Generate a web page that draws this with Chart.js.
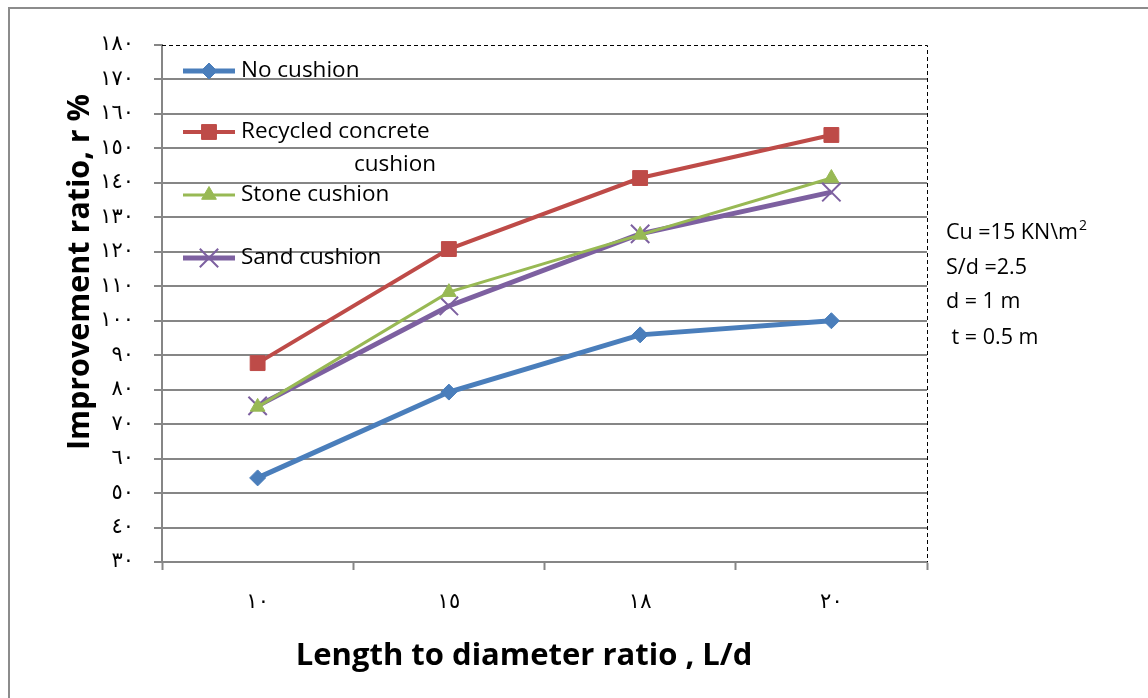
<!DOCTYPE html>
<html>
<head>
<meta charset="utf-8">
<script src="https://cdn.jsdelivr.net/npm/chart.js@4.4.1/dist/chart.umd.min.js"></script>
<style>
  html, body { margin: 0; padding: 0; background: #fff; }
  #wrap { width: 1148px; height: 698px; position: relative; }
</style>
</head>
<body>
<div id="wrap"><canvas id="improvement-chart"></canvas></div>
<script>
// Chart data
var categories = ['١٠', '١٥', '١٨', '٢٠'];
var noCushion = [54.4, 79.3, 95.9, 100.0];
var recycledConcrete = [87.7, 120.8, 141.4, 153.9];
var stoneCushion = [75.0, 108.3, 124.9, 141.4];
var sandCushion = [75.3, 104.3, 125.2, 137.3];
var yTickValues = [30, 40, 50, 60, 70, 80, 90, 100, 110, 120, 130, 140, 150, 160, 170, 180];
var yTickLabels = ['٣٠', '٤٠', '٥٠', '٦٠', '٧٠', '٨٠', '٩٠', '١٠٠', '١١٠', '١٢٠', '١٣٠', '١٤٠', '١٥٠', '١٦٠', '١٧٠', '١٨٠'];
var legendLabels = [['No cushion'], ['Recycled concrete', 'cushion'], ['Stone cushion'], ['Sand cushion']];
var noteLines = ['Cu =15 KN\\m', 'S/d =2.5', 'd = 1 m', ' t = 0.5 m'];

var gridGray = '#868686';
var txtFont = '"Open Sans", sans-serif';

// Legend, notes, titles and frame
var extrasPlugin = {
    id: 'extras',
    beforeDraw: function(chart) {
        var ctx = chart.ctx;
        ctx.save();
        ctx.strokeStyle = '#8c8c8c';
        ctx.lineWidth = 2;
        ctx.beginPath();
        ctx.moveTo(9, 698);
        ctx.lineTo(9, 8);
        ctx.lineTo(1148, 8);
        ctx.stroke();
        ctx.restore();
    },
    afterDatasetsDraw: function(chart) {
        var ctx = chart.ctx;
        var a = chart.chartArea;
        ctx.save();
        // dashed plot frame (top and right)
        ctx.strokeStyle = '#000';
        ctx.lineWidth = 1;
        ctx.setLineDash([4, 3]);
        ctx.beginPath();
        ctx.moveTo(a.left, a.top + 0.5);
        ctx.lineTo(a.right + 0.5, a.top + 0.5);
        ctx.lineTo(a.right + 0.5, a.bottom);
        ctx.stroke();
        ctx.setLineDash([]);

        // legend inside plot
        var rows = [71, 132, 195, 258];
        chart.data.datasets.forEach(function(ds, i) {
            var y = rows[i];
            ctx.strokeStyle = ds.borderColor;
            ctx.lineWidth = ds.borderWidth;
            ctx.beginPath();
            ctx.moveTo(183, y);
            ctx.lineTo(235, y);
            ctx.stroke();
            ctx.fillStyle = ds.pointBackgroundColor;
            ctx.strokeStyle = ds.pointBorderColor;
            ctx.lineWidth = ds.pointBorderWidth || 1;
            Chart.helpers.drawPoint(ctx, {
                pointStyle: ds.pointStyle,
                radius: ds.pointRadius,
                borderWidth: ds.pointBorderWidth || 1,
                rotation: 0
            }, 209, y);
            ctx.fillStyle = '#000';
            ctx.font = '22.5px ' + txtFont;
            ctx.textBaseline = 'middle';
            ctx.textAlign = 'left';
            legendLabels[i].forEach(function(t, k) {
                // wrapped second line sits further right, as in the original
                ctx.fillText(t, k === 0 ? 241 : 354, y + k * 33);
            });
        });

        // notes on the right
        ctx.font = '21.5px ' + txtFont;
        ctx.textAlign = 'left';
        ctx.textBaseline = 'middle';
        var ny = [233, 268, 302, 338];
        noteLines.forEach(function(t, i) {
            ctx.fillText(t, 946, ny[i]);
        });
        var w = ctx.measureText(noteLines[0]).width;
        ctx.font = '14px ' + txtFont;
        ctx.fillText('2', 946 + w + 1, 226);

        // axis titles
        ctx.font = 'bold 30.5px ' + txtFont;
        ctx.textAlign = 'center';
        ctx.translate(80, 272);
        ctx.rotate(-Math.PI / 2);
        ctx.fillText('Improvement ratio, r %', 0, 0);
        ctx.setTransform(1, 0, 0, 1, 0, 0);
        ctx.font = 'bold 31px ' + txtFont;
        ctx.fillText('Length to diameter ratio , L/d', 524, 656);
        ctx.restore();
    }
};

var chartData = {
    labels: categories,
    datasets: [{
        label: 'No cushion',
        data: noCushion,
        borderColor: '#4A7EBB',
        backgroundColor: '#4A7EBB',
        pointBackgroundColor: '#4A7EBB',
        pointBorderColor: '#4A7EBB',
        borderWidth: 5,
        pointStyle: 'rectRot',
        pointRadius: 8,
        pointBorderWidth: 1
    }, {
        label: 'Recycled concrete cushion',
        data: recycledConcrete,
        borderColor: '#BE4B48',
        backgroundColor: '#BE4B48',
        pointBackgroundColor: '#BE4B48',
        pointBorderColor: '#BE4B48',
        borderWidth: 4,
        pointStyle: 'rect',
        pointRadius: 10.5,
        pointBorderWidth: 1
    }, {
        label: 'Stone cushion',
        data: stoneCushion,
        borderColor: '#98B954',
        backgroundColor: '#98B954',
        pointBackgroundColor: '#98B954',
        pointBorderColor: '#98B954',
        borderWidth: 3,
        pointStyle: 'triangle',
        pointRadius: 8.5,
        pointBorderWidth: 1
    }, {
        label: 'Sand cushion',
        data: sandCushion,
        borderColor: '#7D60A0',
        backgroundColor: '#7D60A0',
        pointBackgroundColor: '#7D60A0',
        pointBorderColor: '#7D60A0',
        borderWidth: 5,
        pointStyle: 'crossRot',
        pointRadius: 13,
        pointBorderWidth: 2
    }]
};

var chartOptions = {
    responsive: true,
    maintainAspectRatio: false,
    animation: false,
    layout: { padding: { top: 45, right: 221, bottom: 0, left: 0 } },
    plugins: {
        legend: { display: false },
        tooltip: { enabled: false }
    },
    elements: { line: { tension: 0 } },
    scales: {
        x: {
            offset: true,
            grid: {
                offset: true,
                drawOnChartArea: false,
                drawTicks: true,
                tickLength: 8,
                tickColor: gridGray,
                tickWidth: 2
            },
            border: { color: gridGray, width: 2 },
            ticks: {
                padding: 20,
                color: '#000',
                font: { family: '"DejaVu Sans"', size: 21 }
            },
            afterFit: function(axis) { axis.height = 136; }
        },
        y: {
            min: 30,
            max: 180,
            afterBuildTicks: function(axis) {
                axis.ticks = yTickValues.map(function(v) { return { value: v }; });
            },
            grid: {
                color: function(c) { return c.tick && c.tick.value === 180 ? 'rgba(0,0,0,0)' : gridGray; },
                lineWidth: 2,
                drawTicks: true,
                tickLength: 8,
                tickColor: gridGray,
                tickWidth: 2
            },
            border: { color: gridGray, width: 2 },
            ticks: {
                padding: 20,
                color: '#000',
                font: { family: '"DejaVu Sans"', size: 21 },
                callback: function(value) {
                    var i = yTickValues.indexOf(value);
                    return i >= 0 ? yTickLabels[i] : '';
                }
            },
            afterFit: function(axis) { axis.width = 162; }
        }
    }
};

var ctx = document.getElementById('improvement-chart');
var improvementChart = new Chart(ctx, {
    type: 'line',
    data: chartData,
    options: chartOptions,
    plugins: [extrasPlugin]
});
</script>
</body>
</html>
